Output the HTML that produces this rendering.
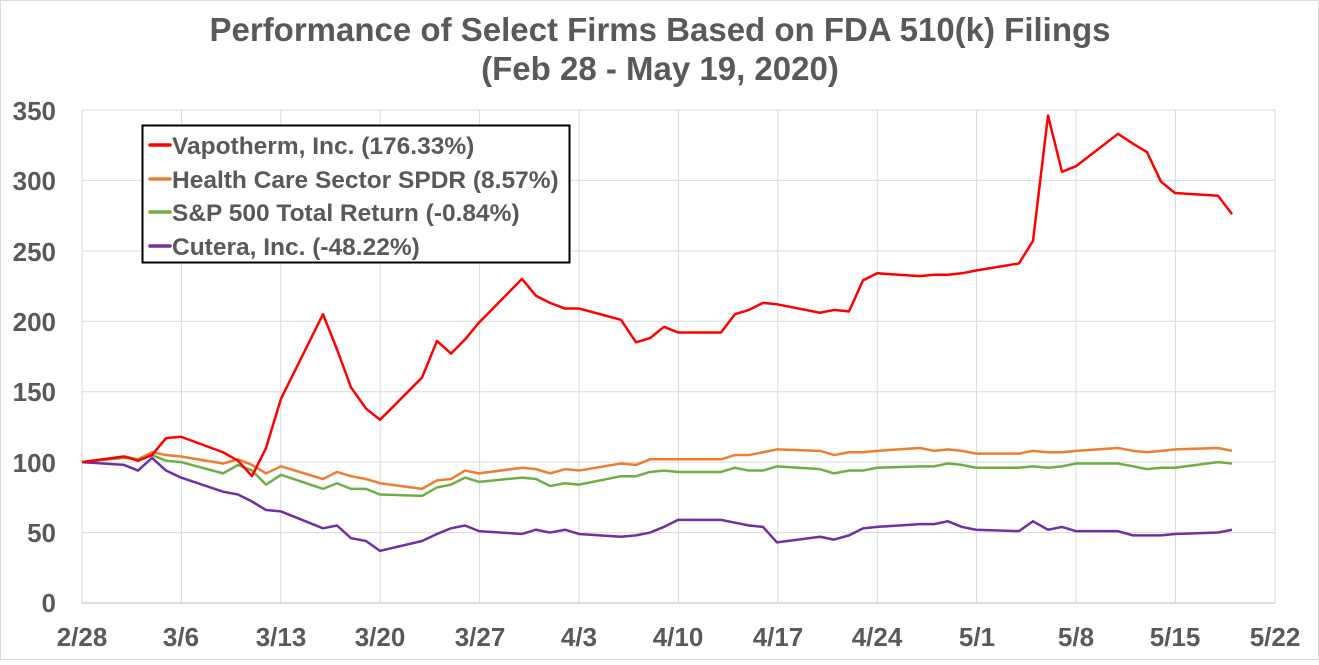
<!DOCTYPE html>
<html><head><meta charset="utf-8"><style>
body{margin:0;background:#fff;}
svg text{font-family:"Liberation Sans",Arial,sans-serif;font-weight:bold;fill:#595959;}
</style></head><body>
<svg width="1319" height="660" viewBox="0 0 1319 660" xmlns="http://www.w3.org/2000/svg">
<rect x="0.5" y="0.5" width="1318" height="659" fill="#fff" stroke="#d9d9d9"/>
<text x="660" y="41" font-size="33" text-anchor="middle">Performance of  Select Firms Based on FDA 510(k) Filings</text>
<text x="660" y="80" font-size="33" text-anchor="middle">(Feb 28 - May 19, 2020)</text>
<g stroke="#d9d9d9" stroke-width="1">
<line x1="82" y1="110" x2="1275" y2="110"/><line x1="82" y1="180.4" x2="1275" y2="180.4"/>
<line x1="82" y1="250.9" x2="1275" y2="250.9"/><line x1="82" y1="321.3" x2="1275" y2="321.3"/>
<line x1="82" y1="391.7" x2="1275" y2="391.7"/><line x1="82" y1="462.1" x2="1275" y2="462.1"/>
<line x1="82" y1="532.6" x2="1275" y2="532.6"/>
<line x1="181.4" y1="110" x2="181.4" y2="603"/><line x1="280.8" y1="110" x2="280.8" y2="603"/>
<line x1="380.2" y1="110" x2="380.2" y2="603"/><line x1="479.6" y1="110" x2="479.6" y2="603"/>
<line x1="579" y1="110" x2="579" y2="603"/><line x1="678.4" y1="110" x2="678.4" y2="603"/>
<line x1="777.8" y1="110" x2="777.8" y2="603"/><line x1="877.2" y1="110" x2="877.2" y2="603"/>
<line x1="976.6" y1="110" x2="976.6" y2="603"/><line x1="1076" y1="110" x2="1076" y2="603"/>
<line x1="1175.4" y1="110" x2="1175.4" y2="603"/><line x1="1275" y1="110" x2="1275" y2="603"/>
<line x1="82" y1="110" x2="82" y2="603"/>
</g>
<line x1="82" y1="603" x2="1275" y2="603" stroke="#bfbfbf"/>
<g font-size="26" text-anchor="end">
<text x="56" y="120">350</text><text x="56" y="190">300</text><text x="56" y="261">250</text>
<text x="56" y="331">200</text><text x="56" y="401">150</text><text x="56" y="472">100</text>
<text x="56" y="542">50</text><text x="56" y="612">0</text>
</g>
<g font-size="26" text-anchor="middle">
<text x="82" y="646">2/28</text><text x="181" y="646">3/6</text><text x="281" y="646">3/13</text>
<text x="380" y="646">3/20</text><text x="480" y="646">3/27</text><text x="579" y="646">4/3</text>
<text x="678" y="646">4/10</text><text x="778" y="646">4/17</text><text x="877" y="646">4/24</text>
<text x="977" y="646">5/1</text><text x="1076" y="646">5/8</text><text x="1175" y="646">5/15</text>
<text x="1275" y="646">5/22</text>
</g>
<g transform="translate(0,603) scale(1,-1.409)" fill="none" stroke-linejoin="round">
<polyline vector-effect="non-scaling-stroke" stroke="#ed7d31" stroke-width="2.5" points="82,100 124,104 138,102 152,107 166,105 181,104 223,99 238,102 252,98 266,92 281,97 323,88 337,93 351,90 366,88 380,85 422,81 437,87 451,88 465,94 479,92 522,96 536,95 550,92 565,95 579,94 621,99 636,98 650,102 664,102 678,102 721,102 735,105 749,105 763,107 777,109 820,108 834,105 849,107 863,107 877,108 920,110 934,108 948,109 962,108 976,106 1019,106 1033,108 1048,107 1062,107 1076,108 1118,110 1133,108 1147,107 1161,108 1175,109 1218,110 1232,108"/>
<polyline vector-effect="non-scaling-stroke" stroke="#70ad47" stroke-width="2.5" points="82,100 124,103 138,102 152,105 166,101 181,100 223,92 238,98 252,94 266,84 281,91 323,81 337,85 351,81 366,81 380,77 422,76 437,82 451,84 465,89 479,86 522,89 536,88 550,83 565,85 579,84 621,90 636,90 650,93 664,94 678,93 721,93 735,96 749,94 763,94 777,97 820,95 834,92 849,94 863,94 877,96 920,97 934,97 948,99 962,98 976,96 1019,96 1033,97 1048,96 1062,97 1076,99 1118,99 1133,97 1147,95 1161,96 1175,96 1218,100 1232,99"/>
<polyline vector-effect="non-scaling-stroke" stroke="#7030a0" stroke-width="2.5" points="82,100 124,98 138,94 152,103 166,94 181,89 223,79 238,77 252,72 266,66 281,65 323,53 337,55 351,46 366,44 380,37 422,44 437,49 451,53 465,55 479,51 522,49 536,52 550,50 565,52 579,49 621,47 636,48 650,50 664,54 678,59 721,59 735,57 749,55 763,54 777,43 820,47 834,45 849,48 863,53 877,54 920,56 934,56 948,58 962,54 976,52 1019,51 1033,58 1048,52 1062,54 1076,51 1118,51 1133,48 1147,48 1161,48 1175,49 1218,50 1232,52"/>
<polyline vector-effect="non-scaling-stroke" stroke="#ff0000" stroke-width="2.5" points="82,100 124,104 138,101 152,105 166,117 181,118 223,107 238,101 252,90 266,110 281,145 323,205 337,180 351,153 366,138 380,130 422,160 437,186 451,177 465,187 479,199 522,230 536,218 550,213 565,209 579,209 621,201 636,185 650,188 664,196 678,192 721,192 735,205 749,208 763,213 777,212 820,206 834,208 849,207 863,229 877,234 920,232 934,233 948,233 962,234 976,236 1019,241 1033,257 1048,346 1062,306 1076,310 1118,333 1133,326 1147,320 1161,299 1175,291 1218,289 1232,276"/>
</g>
<rect x="142.5" y="125.5" width="427" height="137" fill="#fff" stroke="#000" stroke-width="2"/>
<g stroke-width="3.5" stroke-linecap="round">
<line x1="150" y1="145" x2="170" y2="145" stroke="#ff0000"/>
<line x1="150" y1="179" x2="170" y2="179" stroke="#ed7d31"/>
<line x1="150" y1="212" x2="170" y2="212" stroke="#70ad47"/>
<line x1="150" y1="246" x2="170" y2="246" stroke="#7030a0"/>
</g>
<g font-size="24.5">
<text x="172" y="154">Vapotherm, Inc. (176.33%)</text>
<text x="172" y="188">Health Care Sector SPDR (8.57%)</text>
<text x="172" y="221">S&amp;P 500 Total Return (-0.84%)</text>
<text x="172" y="255">Cutera, Inc. (-48.22%)</text>
</g>
</svg>
</body></html>
